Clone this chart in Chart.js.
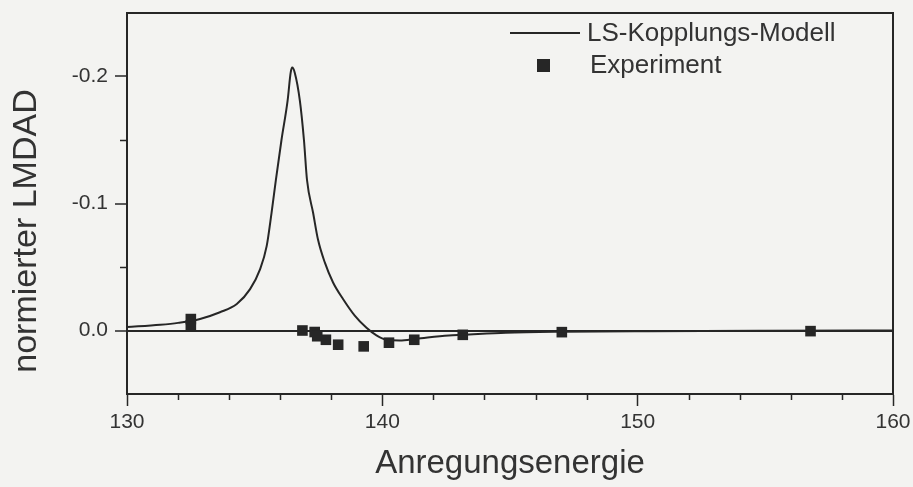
<!DOCTYPE html>
<html>
<head>
<meta charset="utf-8">
<title>normierter LMDAD</title>
<script src="https://cdn.jsdelivr.net/npm/chart.js@4.4.1/dist/chart.umd.min.js"></script>
<style>
    html, body { margin: 0; padding: 0; background: #f3f3f1; }
    canvas { display: block; }
</style>
</head>
<body>
<canvas id="lmdadChart" width="913" height="487"></canvas>
<script>
// LS coupling model curve (energy, normalised LMDAD)
var modelEnergy = [130.0, 131.3, 132.0, 132.86, 133.64, 134.3, 134.82, 135.21, 135.47, 135.66, 135.83, 136.05, 136.29, 136.41, 136.47,
                   136.57, 136.77, 136.93, 137.05, 137.29, 137.48, 137.75, 138.07, 138.46, 138.92, 139.38, 139.77, 140.16,
                   140.68, 141.33, 142.6, 143.15, 144.84, 147.04, 150.4, 155.0, 160.0];
var modelValue = [-0.0027, -0.0045, -0.006, -0.0091, -0.0144, -0.0209, -0.0326, -0.0482, -0.0664, -0.0925, -0.1185, -0.150, -0.181, -0.203, -0.207,
                  -0.203, -0.181, -0.150, -0.1185, -0.0925, -0.0716, -0.0534, -0.0378, -0.0248, -0.0117, -0.0021, 0.0039, 0.0073,
                  0.0078, 0.0065, 0.0039, 0.0034, 0.0018, 0.001, 0.0005, 0.0002, 0.0];

// measured points
var expEnergy = [132.5, 132.5, 136.87, 137.35, 137.45, 137.79, 138.27, 139.27, 140.26, 141.25, 143.15, 147.03, 156.77];
var expValue  = [-0.009, -0.004, 0.0, 0.0012, 0.0045, 0.0073, 0.0112, 0.0125, 0.0096, 0.0073, 0.0034, 0.0013, 0.0005];

var xTickValues = [130, 140, 150, 160];
var yTickValues = [-0.2, -0.1, 0.0];

var ink = '#262626';
var textInk = '#333333';
var fontFamily = '"Liberation Sans", Arial, Helvetica, sans-serif';

function toPoints(xs, ys) {
    return xs.map(function (x, i) { return { x: x, y: ys[i] }; });
}

// small ticks between the labelled ones, the y title and the legend box
var extrasPlugin = {
    id: 'extras',
    afterDraw: function (chart) {
        var c = chart.ctx;
        var xs = chart.scales.x, ys = chart.scales.y;
        var area = chart.chartArea;
        c.save();
        c.strokeStyle = ink;
        c.lineWidth = 1.5;
        c.beginPath();
        for (var e = 132; e < 160; e += 2) {
            if (e % 10 === 0) continue;
            var px = Math.round(xs.getPixelForValue(e)) + 0.5;
            c.moveTo(px, area.bottom);
            c.lineTo(px, area.bottom + 6);
        }
        [-0.15, -0.05].forEach(function (v) {
            var py = Math.round(ys.getPixelForValue(v)) + 0.5;
            c.moveTo(area.left - 7, py);
            c.lineTo(area.left, py);
        });
        c.stroke();

        // y axis title, a little below the middle of the axis
        c.save();
        c.translate(27, 231);
        c.rotate(-Math.PI / 2);
        c.font = '34px ' + fontFamily;
        c.fillStyle = textInk;
        c.textAlign = 'center';
        c.textBaseline = 'middle';
        c.fillText(ys.options.title.text, 0, 0);
        c.restore();

        // legend
        var ds = chart.data.datasets;
        c.font = '26px ' + fontFamily;
        c.fillStyle = textInk;
        c.textBaseline = 'middle';
        c.textAlign = 'left';

        c.lineWidth = 2;
        c.beginPath();
        c.moveTo(510, 33);
        c.lineTo(580, 33);
        c.stroke();
        c.fillText(ds[0].label, 587, 34);

        c.fillStyle = ink;
        c.fillRect(537, 59, 13, 13);
        c.fillStyle = textInk;
        c.fillText(ds[1].label, 590, 66);
        c.restore();
    }
};

Chart.defaults.font.family = fontFamily;
Chart.defaults.color = textInk;

var ctx = document.getElementById('lmdadChart').getContext('2d');
new Chart(ctx, {
    type: 'scatter',
    data: {
        datasets: [{
            label: 'LS-Kopplungs-Modell',
            data: toPoints(modelEnergy, modelValue),
            showLine: true,
            borderColor: ink,
            borderWidth: 2,
            pointRadius: 0,
            cubicInterpolationMode: 'monotone',
            fill: false
        }, {
            label: 'Experiment',
            data: toPoints(expEnergy, expValue),
            pointStyle: 'rect',
            pointRadius: 7.5,
            backgroundColor: ink,
            borderColor: ink,
            borderWidth: 0
        }]
    },
    options: {
        responsive: false,
        animation: false,
        events: [],
        layout: { padding: 0 },
        plugins: {
            legend: { display: false },
            tooltip: { enabled: false }
        },
        scales: {
            x: {
                type: 'linear',
                position: 'bottom',
                min: 130,
                max: 160,
                afterBuildTicks: function (s) {
                    s.ticks = xTickValues.map(function (v) { return { value: v }; });
                },
                afterFit: function (s) {
                    s.height = 93;
                    s.paddingLeft = 0;
                    s.paddingRight = 0;
                },
                ticks: {
                    font: { size: 21 },
                    padding: 4,
                    maxRotation: 0,
                    callback: function (v) { return v; }
                },
                grid: {
                    drawOnChartArea: false,
                    tickLength: 12,
                    tickColor: ink,
                    tickWidth: 1.5
                },
                border: { color: ink, width: 2 },
                title: {
                    display: true,
                    text: 'Anregungsenergie',
                    font: { size: 33 },
                    padding: { top: 0, bottom: 3 }
                }
            },
            y: {
                type: 'linear',
                position: 'left',
                reverse: true,
                min: -0.25,
                max: 0.05,
                afterBuildTicks: function (s) {
                    s.ticks = yTickValues.map(function (v) { return { value: v }; });
                },
                afterFit: function (s) {
                    s.width = 127;
                    s.paddingTop = 0;
                    s.paddingBottom = 0;
                },
                ticks: {
                    font: { size: 21 },
                    padding: 7,
                    callback: function (v) { return Number(v).toFixed(1); }
                },
                grid: {
                    drawOnChartArea: true,
                    color: function (c) { return c.tick && c.tick.value === 0 ? ink : 'rgba(0,0,0,0)'; },
                    lineWidth: 2,
                    tickLength: 12,
                    tickColor: ink,
                    tickWidth: 1.5
                },
                border: { color: ink, width: 2 },
                title: {
                    display: false,
                    text: 'normierter LMDAD'
                }
            },
            x2: {
                type: 'linear',
                position: 'top',
                min: 130,
                max: 160,
                afterFit: function (s) {
                    s.height = 13;
                    s.paddingLeft = 0;
                    s.paddingRight = 0;
                },
                ticks: { display: false },
                grid: { drawOnChartArea: false, drawTicks: false },
                border: { color: ink, width: 2 }
            },
            y2: {
                type: 'linear',
                position: 'right',
                min: -0.25,
                max: 0.05,
                afterFit: function (s) {
                    s.width = 20;
                    s.paddingTop = 0;
                    s.paddingBottom = 0;
                },
                ticks: { display: false },
                grid: { drawOnChartArea: false, drawTicks: false },
                border: { color: ink, width: 2 }
            }
        }
    },
    plugins: [extrasPlugin]
});
</script>
</body>
</html>
